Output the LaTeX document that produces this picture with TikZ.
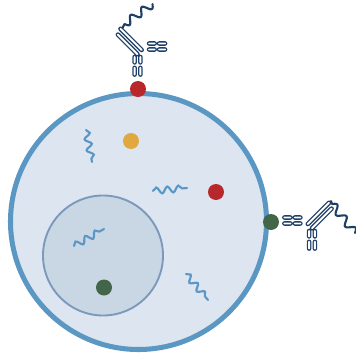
\documentclass[tikz,border=0pt]{standalone}
\usetikzlibrary{decorations.pathmorphing}
\definecolor{CellFill}{HTML}{DDE5F0}
\definecolor{CellEdge}{HTML}{5B97C3}
\definecolor{NucFill}{HTML}{C9D6E3}
\definecolor{NucEdge}{HTML}{7A99BB}
\definecolor{AgRed}{HTML}{B8282B}
\definecolor{AgGold}{HTML}{E1A83F}
\definecolor{AgGreen}{HTML}{436549}
\definecolor{AbNavy}{HTML}{1E3F66}
\definecolor{RnaBlue}{HTML}{5A97C4}

\tikzset{
  dot/.style={circle, inner sep=0pt, minimum size=4.8mm},
  rna/.style={RnaBlue, line width=1.8pt, line cap=round, decorate,
              decoration={snake, segment length=9.5pt, amplitude=2.7pt}},
  domout/.style={AbNavy, line width=3.9pt, line cap=round},
  domin/.style={white, line width=1.7pt, line cap=round},
  tail/.style={AbNavy, line width=1.8pt, line cap=round, line join=round},
}

% antibody domains, origin at the bottom of the Fc stem
\newcommand{\abdomains}[1]{%
  \draw[#1] (-2.9,-20) -- (-2.9,-14.6) (-2.9,-9.2) -- (-2.9,-2.4)
            (2.9,-20) -- (2.9,-14.6) (2.9,-9.2) -- (2.9,-2.4)
            (11.6,-33.5) -- (17.2,-33.5) (21.6,-33.5) -- (27.6,-33.5)
            (11.6,-27.5) -- (17.2,-27.5) (21.6,-27.5) -- (27.6,-27.5)
            (4.2,-27) -- (-17,-48.2)
            (0,-22.8) -- (-19.6,-42.4);}
\newcommand{\antibody}{\abdomains{domout}\abdomains{domin}}

\begin{document}
\begin{tikzpicture}[x=0.3mm, y=-0.3mm]
    \useasboundingbox (0,0) rectangle (355,355);
    % cell and nucleus
    \draw[CellEdge, fill=CellFill, line width=4.3pt] (138.5,221.5) circle (128);
    \draw[NucEdge, fill=NucFill, line width=1.6pt] (103,255.5) circle (60);
    % transcripts
    \draw[rna] (86,130) -- (92,162);
    \draw[rna] (153,191) -- (187,188);
    \draw[rna] (74,246) -- (104,229);
    \draw[rna] (186,274) -- (208,300);
    % antigens
    \node[dot, fill=AgGold] (agGold) at (131,141) {};
    \node[dot, fill=AgRed] (agRed) at (216,192) {};
    \node[dot, fill=AgGreen] (agNuc) at (104,287.5) {};
    \node[dot, fill=AgRed] (agTop) at (138,89) {};
    \node[dot, fill=AgGreen] (agSide) at (271,222) {};
    % antibodies
    \begin{scope}[shift={(137.5,77)}]
      \antibody
    \end{scope}
    \begin{scope}[shift={(312,251)}, xscale=-1]
      \antibody
    \end{scope}
    % conjugated tails
    \draw[tail] (122.5,28) -- (124.5,24)
      plot[domain=0:1, samples=50, smooth]
        ({124.5+28*\x+3.8*0.6*sin(\x*900)}, {24-20*\x+3.8*0.8*sin(\x*900)});
    \draw[tail] (331,201) -- (332,204)
      plot[domain=0:1, samples=50, smooth]
        ({332+23*\x+3.8*0.78*sin(\x*900)}, {204+29*\x-3.8*0.62*sin(\x*900)});
\end{tikzpicture}
\end{document}
